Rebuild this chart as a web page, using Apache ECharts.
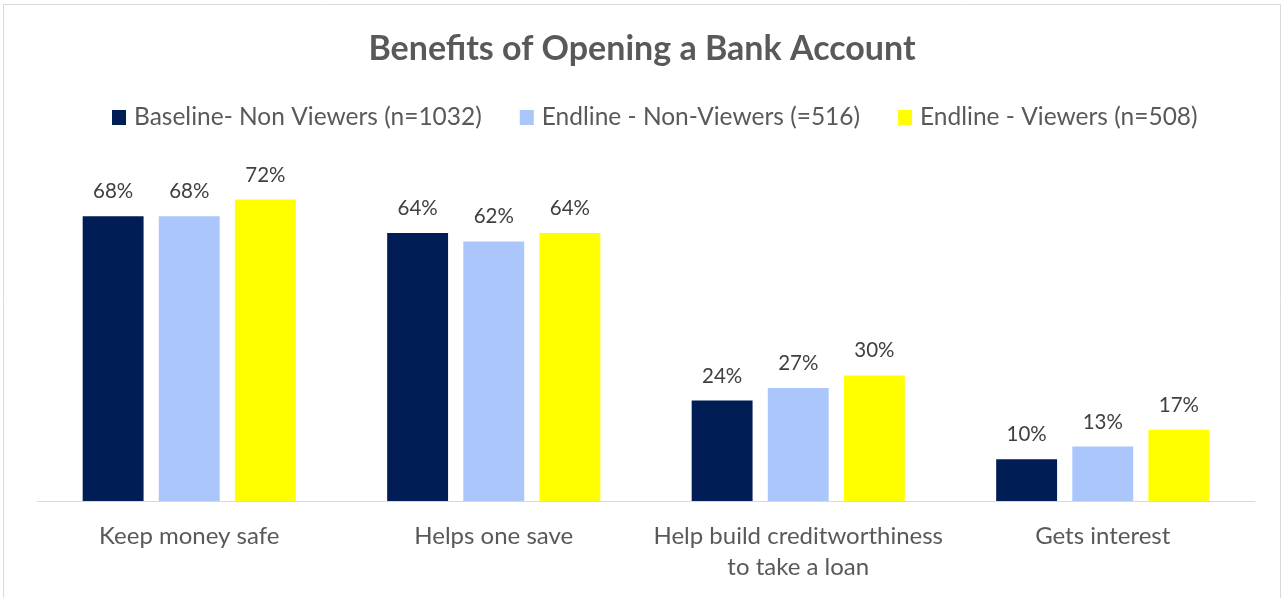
<!DOCTYPE html>
<html>
<head>
<meta charset="utf-8">
<script src="https://cdn.jsdelivr.net/npm/echarts@6/dist/echarts.min.js"></script>
<style>
  html, body { margin: 0; padding: 0; background: #fff; }
  #chart { width: 1284px; height: 598px; }
</style>
</head>
<body>
<div id="chart"></div>
<script>
const categories = [
  'Keep money safe',
  'Helps one save',
  'Help build creditworthiness\nto take a loan',
  'Gets interest'
];
const seriesNames = [
  'Baseline- Non Viewers (n=1032)',
  'Endline - Non-Viewers (=516)',
  'Endline - Viewers (n=508)'
];
const baselineNonViewers = [68, 64, 24, 10];
const endlineNonViewers = [68, 62, 27, 13];
const endlineViewers = [72, 64, 30, 17];
const seriesColors = ['#001d55', '#abc6fb', '#ffff00'];

const FONT = 'Lato, "Open Sans", sans-serif';

const chart = echarts.init(document.getElementById('chart'), null, { renderer: 'canvas' });

const values = [baselineNonViewers, endlineNonViewers, endlineViewers];

chart.setOption({
  animation: false,
  backgroundColor: '#ffffff',
  title: {
    text: 'Benefits of Opening a Bank Account',
    left: 'center',
    top: 27,
    textStyle: { fontFamily: FONT, fontSize: 34, fontWeight: 'bold', color: '#595959' }
  },
  legend: {
    top: 100,
    left: 107,
    itemWidth: 14,
    itemHeight: 15,
    itemGap: 38,
    icon: 'rect',
    textStyle: { fontFamily: FONT, fontSize: 24.5, color: '#595959', padding: [0, 0, 0, 3] },
    data: seriesNames
  },
  graphic: [{
    type: 'rect',
    shape: { x: 3.5, y: 4.5, width: 1277, height: 620 },
    style: { fill: 'none', stroke: '#d9d9d9', lineWidth: 1 },
    silent: true
  }],
  grid: { left: 37, right: 29, top: 166, bottom: 97 },
  xAxis: {
    type: 'category',
    data: categories,
    axisLine: { show: true, lineStyle: { color: '#d9d9d9', width: 1 } },
    axisTick: { show: false },
    axisLabel: {
      fontFamily: FONT, fontSize: 24, color: '#595959',
      margin: 20, lineHeight: 31, interval: 0
    }
  },
  yAxis: {
    type: 'value',
    min: 0,
    max: 80,
    show: false,
    splitLine: { show: false }
  },
  series: seriesNames.map((name, i) => ({
    name,
    type: 'bar',
    data: values[i],
    barGap: '25%',
    barCategoryGap: '30%',
    itemStyle: { color: seriesColors[i] },
    label: {
      show: true,
      position: 'top',
      distance: 14,
      formatter: p => p.value + '%',
      fontFamily: FONT, fontSize: 20.5, color: '#404040'
    }
  }))
});
</script>
</body>
</html>
